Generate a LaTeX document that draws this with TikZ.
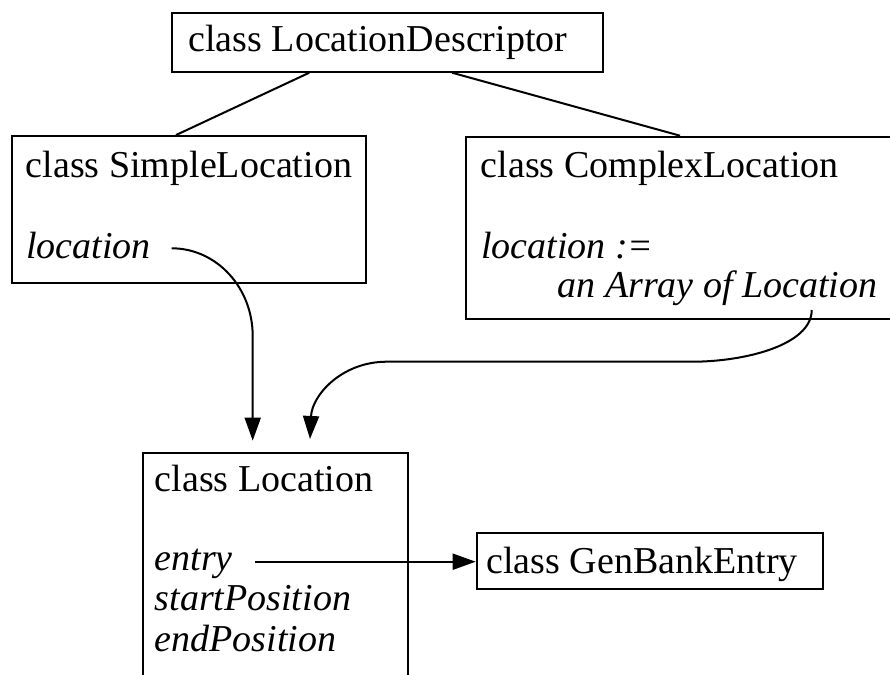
\documentclass[tikz,border=0pt]{standalone}
\usepackage{fontspec}
\setmainfont{Liberation Serif}
\usetikzlibrary{arrows.meta}

\tikzset{
  classbox/.style={draw, line width=2pt, rectangle, inner sep=0pt},
  label/.style={anchor=base west, inner sep=0pt, font=\fontsize{38}{44}\selectfont},
  attr/.style={label, font=\fontsize{38}{44}\selectfont\itshape},
  link/.style={line width=2pt},
  ref/.style={line width=2pt, -{Triangle[length=23pt, width=16pt]}},
}

\begin{document}
\begin{tikzpicture}[x=1pt, y=-1pt]
  \useasboundingbox (0,0) rectangle (890,674);
  \clip (0,0) rectangle (890,674);

  % class boxes
  \node[classbox, minimum width=431pt, minimum height=59pt]   (desc)    at (387.5,42.2) {};
  \node[classbox, minimum width=354.3pt, minimum height=147.3pt] (simple) at (188.9,209.7) {};
  \node[classbox, minimum width=434.3pt, minimum height=182.6pt] (complex) at (682.9,228) {};
  \node[classbox, minimum width=265pt, minimum height=247.3pt] (loc)     at (275.5,576.3) {};
  \node[classbox, minimum width=346.6pt, minimum height=56.3pt] (gen)    at (650,560.8) {};

  % class names and attributes
  \node[label] (tDesc)    at (188.3,52)    {class LocationDescriptor};
  \node[label] (tSimple)  at (25.7,177)    {class SimpleLocation};
  \node[attr]  (aSimple)  at (26,258)      {location};
  \node[label] (tComplex) at (480.7,177)   {class ComplexLocation};
  \node[attr]  (aComplexA) at (481,258.5)  {location :=};
  \node[attr]  (aComplexB) at (557.3,297)  {an Array of Location};
  \node[label] (tLoc)     at (154.5,491.5) {class Location};
  \node[attr]  (aEntry)   at (154.5,570.5) {entry};
  \node[attr]  (aStart)   at (154.5,610.5) {startPosition};
  \node[attr]  (aEnd)     at (154.5,651)   {endPosition};
  \node[label] (tGen)     at (486.3,573)   {class GenBankEntry};

  % inheritance links
  \draw[link] ([xshift=-78.2pt]desc.south) -- ([xshift=-12.9pt]simple.north);
  \draw[link] ([xshift=64.5pt]desc.south) -- ([xshift=-2.9pt]complex.north);

  % reference arrows
  \coordinate (sStart) at (171.7,248.3);
  \coordinate (sIn)    at ([xshift=-22.8pt,yshift=11pt]loc.north);
  \draw[ref] (sStart) .. controls (216.4,248.3) and (252.7,287.4) .. (252.7,336) -- (sIn);

  \coordinate (cStart) at (811.7,310);
  \coordinate (cIn)    at ([xshift=34.5pt,yshift=12.7pt]loc.north);
  \draw[ref] (cStart) .. controls (811.7,345) and (745,361.7) .. (692,361.7)
    -- (386.7,361.7) .. controls (342,361.7) and (312,395) .. (cIn);

  \coordinate (eStart) at (255,561.7);
  \draw[ref] (eStart) -- ([yshift=-0.9pt]gen.west);
\end{tikzpicture}
\end{document}
